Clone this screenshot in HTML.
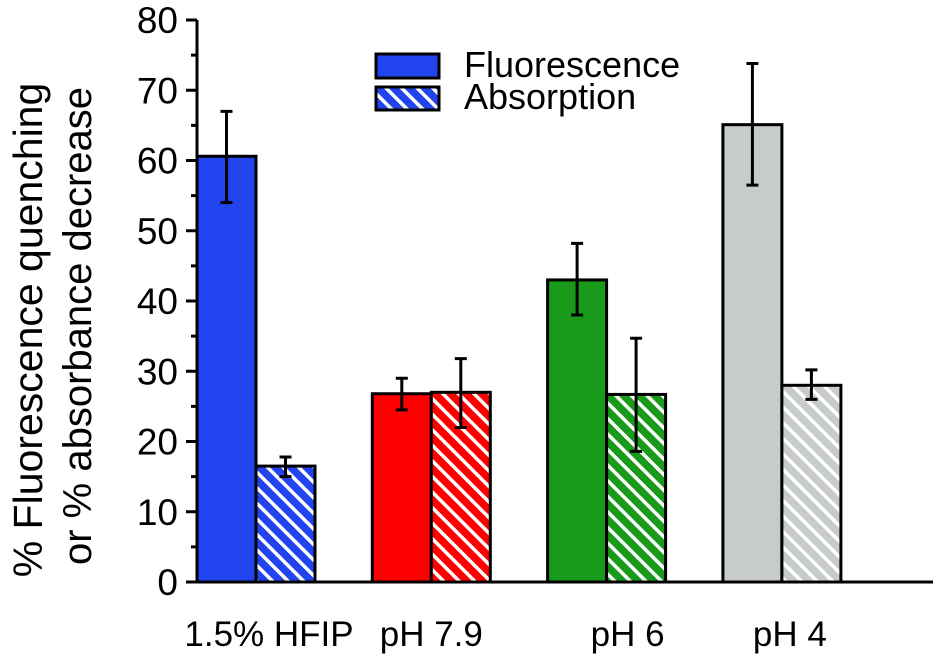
<!DOCTYPE html>
<html><head><meta charset="utf-8"><style>
body{margin:0;background:#fff}
svg{display:block;font-family:"Liberation Sans",Arial,sans-serif}
</style></head><body>
<svg width="933" height="658" viewBox="0 0 933 658">
<defs>
<pattern id="hb" width="11" height="11" patternUnits="userSpaceOnUse" patternTransform="rotate(-45)"><rect width="11" height="11" fill="#2244ee"/><rect width="3.5" height="11" fill="#fff"/></pattern>
<pattern id="hr" width="11" height="11" patternUnits="userSpaceOnUse" patternTransform="rotate(-45)"><rect width="11" height="11" fill="#ff0000"/><rect width="3.5" height="11" fill="#fff"/></pattern>
<pattern id="hg" width="11" height="11" patternUnits="userSpaceOnUse" patternTransform="rotate(-45)"><rect width="11" height="11" fill="#1a9a1a"/><rect width="3.5" height="11" fill="#fff"/></pattern>
<pattern id="hy" width="11" height="11" patternUnits="userSpaceOnUse" patternTransform="rotate(-45)"><rect width="11" height="11" fill="#c8ccc8"/><rect width="3.5" height="11" fill="#fff"/></pattern>
</defs>
<g id="plot"></g>
<g>
<rect x="376" y="54" width="63" height="24" fill="#2244ee" stroke="#000" stroke-width="3"/>
<rect x="376" y="87" width="63" height="23" fill="url(#hb)" stroke="#000" stroke-width="3"/>
<text x="464" y="77" font-size="36">Fluorescence</text>
<text x="464" y="109" font-size="36">Absorption</text>
</g>
<text transform="translate(42,330) rotate(-90)" text-anchor="middle" font-size="41">% Fluorescence quenching</text>
<text transform="translate(91,326) rotate(-90)" text-anchor="middle" font-size="40">or % absorbance decrease</text>
</svg>
<script>
const categories=["1.5% HFIP","pH 7.9","pH 6","pH 4"];
const fluor=[60.6,26.8,43,65.1];
const fluorLo=[54,24.5,38,56.5];
const fluorHi=[67,29,48.2,73.8];
const absorb=[16.5,27,26.7,28];
const absLo=[15,22,18.6,26];
const absHi=[17.8,31.8,34.7,30.2];
const yTicks=[0,10,20,30,40,50,60,70,80];
const solidColors=["#2244ee","#ff0000","#1a9a1a","#c8ccc8"];
const hatchFills=["url(#hb)","url(#hr)","url(#hg)","url(#hy)"];
const labelShift=[13,0,21,8];
const NS="http://www.w3.org/2000/svg";
const g=document.getElementById('plot');
const y0=582,pxPer=7.025,xAxis=197;
const y=v=>y0-v*pxPer;
const groupX=i=>197+i*175.3;
const bw=59;
function mk(t,a){const e=document.createElementNS(NS,t);for(const k in a)e.setAttribute(k,a[k]);g.appendChild(e);return e;}
categories.forEach((c,i)=>{
  const x=groupX(i);
  let r=mk('rect',{x:x,y:y(fluor[i]),width:bw,height:y0-y(fluor[i]),fill:solidColors[i],stroke:'#000','stroke-width':3});
  
  
  r=mk('rect',{x:x+bw,y:y(absorb[i]),width:bw,height:y0-y(absorb[i]),fill:hatchFills[i],stroke:'#000','stroke-width':3});
  
  
  [[x+bw/2,fluorLo[i],fluorHi[i],'fluorescence'],[x+bw*1.5,absLo[i],absHi[i],'absorption']].forEach(([cx,lo,hi,n])=>{
    const p=mk('path',{d:`M${cx},${y(lo)}V${y(hi)}M${cx-6},${y(lo)}H${cx+6}M${cx-6},${y(hi)}H${cx+6}`,stroke:'#000','stroke-width':3,fill:'none'});
    
    
  });
  const t=mk('text',{x:x+bw+labelShift[i],y:646,'text-anchor':'middle','font-size':35});
  t.textContent=c;
  
  
});
let ax=mk('path',{d:`M${xAxis},${y(80)}V${y0}H933`,stroke:'#000','stroke-width':3,fill:'none'});


yTicks.forEach((v,k)=>{
  let tk=mk('path',{d:`M${xAxis-11},${y(v)}H${xAxis}`,stroke:'#000','stroke-width':3});
  
  
  if(k<yTicks.length-1){
    let m=mk('path',{d:`M${xAxis-6},${y(v+5)}H${xAxis}`,stroke:'#000','stroke-width':3});
    
    
  }
  const t=mk('text',{x:178,y:y(v)+13,'text-anchor':'end','font-size':37});
  t.textContent=v;
  
  
});
</script>
</body></html>
